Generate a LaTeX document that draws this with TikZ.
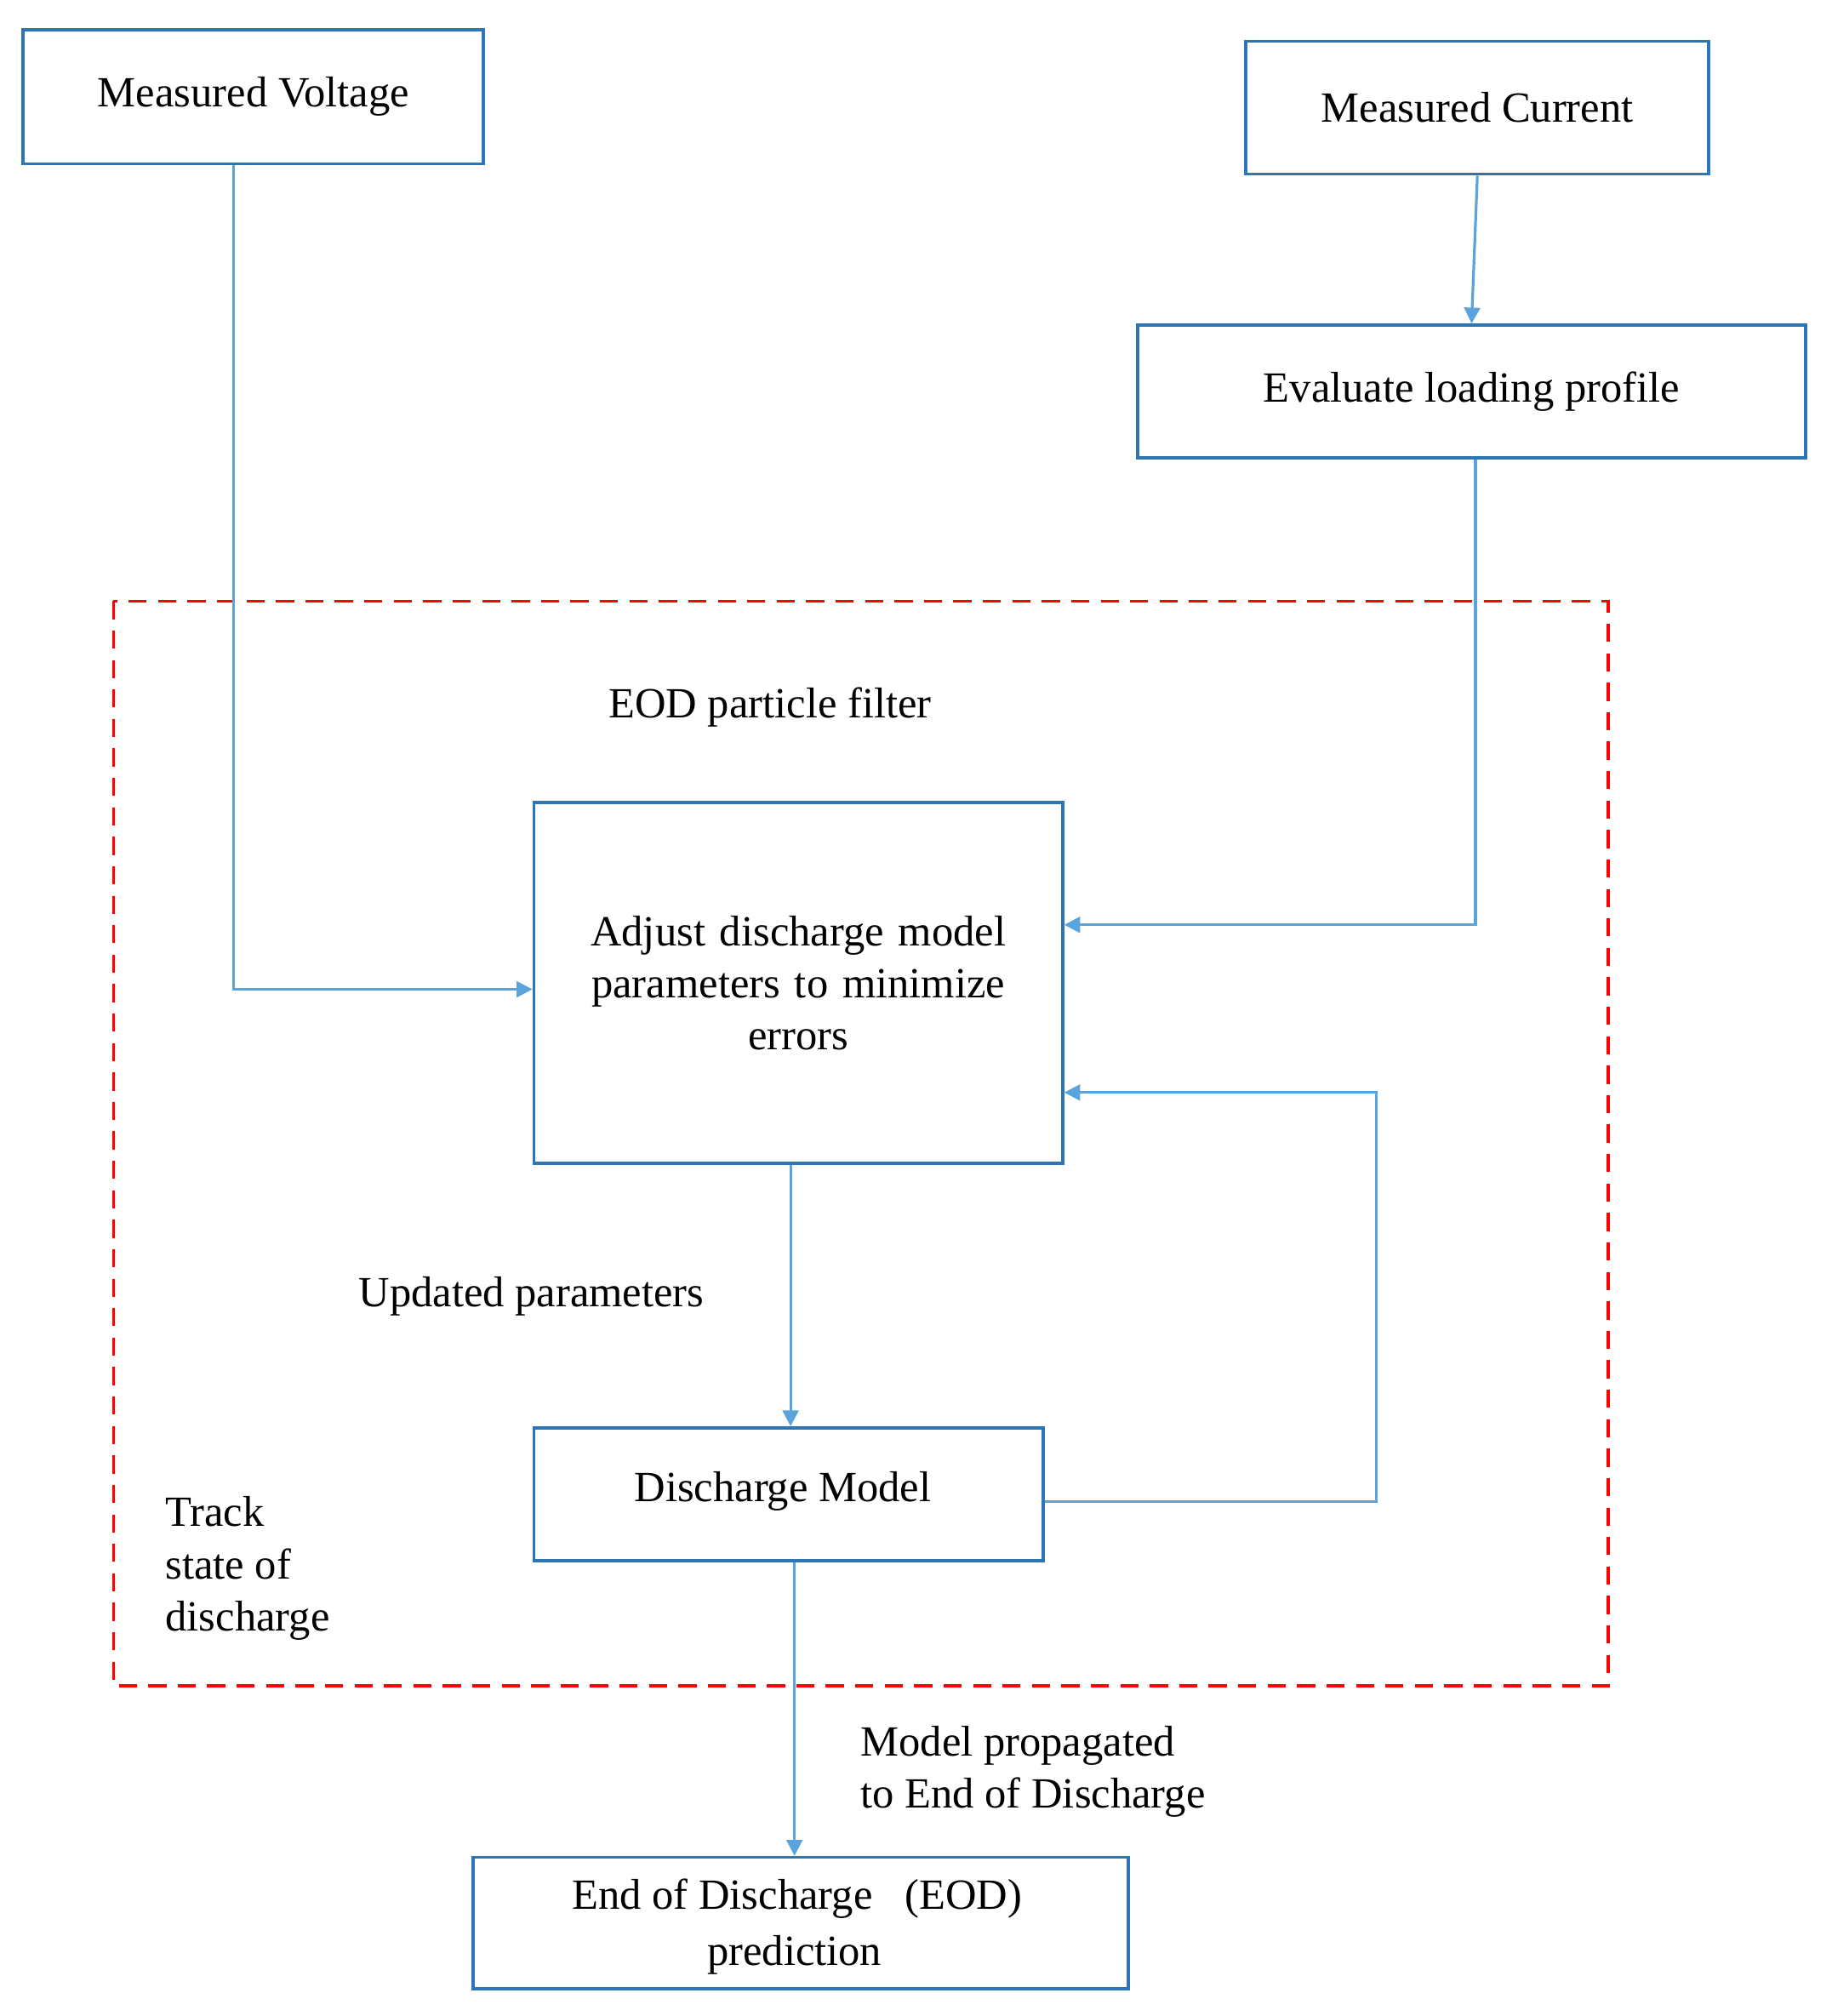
\documentclass[tikz,border=0pt]{standalone}
\usepackage{fontspec}
\setmainfont{Liberation Serif}
\usetikzlibrary{arrows.meta}
\definecolor{bx}{HTML}{2E75B6}
\definecolor{ln}{HTML}{5BA3DC}
\begin{document}
\begin{tikzpicture}[x=0.02cm,y=-0.02cm,
  box/.style={draw=bx,line width=1.4pt,inner sep=0pt,align=center,font=\fontsize{19}{23}\selectfont},
  conn/.style={draw=ln,line width=1.2pt,-{Triangle[length=7pt,width=7pt]}},
  lbl/.style={font=\fontsize{19}{23}\selectfont,inner sep=0pt}]
\useasboundingbox (0,0) rectangle (1420,1563);
\node[box,minimum width=7.14cm,minimum height=2.08cm] (mv) at (196.5,75) {Measured Voltage};
\node[box,minimum width=7.18cm,minimum height=2.06cm] (mc) at (1145.5,83.5) {Measured Current};
\node[box,minimum width=10.36cm,minimum height=2.06cm] (elp) at (1141,303.5) {Evaluate loading profile};
\draw[red,dashed,line width=1.2pt,dash pattern=on 8pt off 5pt] (88,466) rectangle (1247,1307);
\node[lbl] (pf) at (597,548) {EOD particle filter};
\node[box,minimum width=8.2cm,minimum height=5.6cm,text width=7.4cm] (adj) at (619,762) {Adjust discharge model\\ parameters to minimize\\ errors};
\node[box,minimum width=7.9cm,minimum height=2.06cm] (dm) at (611.5,1158.5) {};
\node[lbl] (dmt) at (607,1156) {Discharge Model};
\node[box,minimum width=10.16cm,minimum height=2.04cm] (eod) at (621,1491) {};
\node[lbl] (eodt) at (618,1472) {End of Discharge\hspace{0.5em} (EOD)};
\node[lbl,anchor=north] (eodt2) at (616,1500) {prediction};
\node[lbl,align=left,anchor=north west] (tr) at (128,1160) {Track\\ state of\\ discharge};
\node[lbl] (up) at (412,1005) {Updated parameters};
\node[lbl,align=left,anchor=north west] (mp) at (667,1338) {Model propagated\\ to End of Discharge};
\coordinate (v1) at (181,767);
\coordinate (e1) at (1144,717);
\coordinate (d1) at (1067,1164);
\coordinate (d2) at (1067,847);
\draw[conn] (mv.south -| v1) -- (v1) -- (adj.west |- v1);
\draw[conn] (mc.south) -- (elp.north);
\draw[conn] (elp.south -| e1) -- (e1) -- (adj.east |- e1);
\draw[conn] (adj.south -| 613,0) -- (dm.north -| 613,0);
\draw[conn] (dm.east |- d1) -- (d1) -- (d2) -- (adj.east |- d2);
\draw[conn] (dm.south -| 616,0) -- (eod.north -| 616,0);
\end{tikzpicture}
\end{document}
